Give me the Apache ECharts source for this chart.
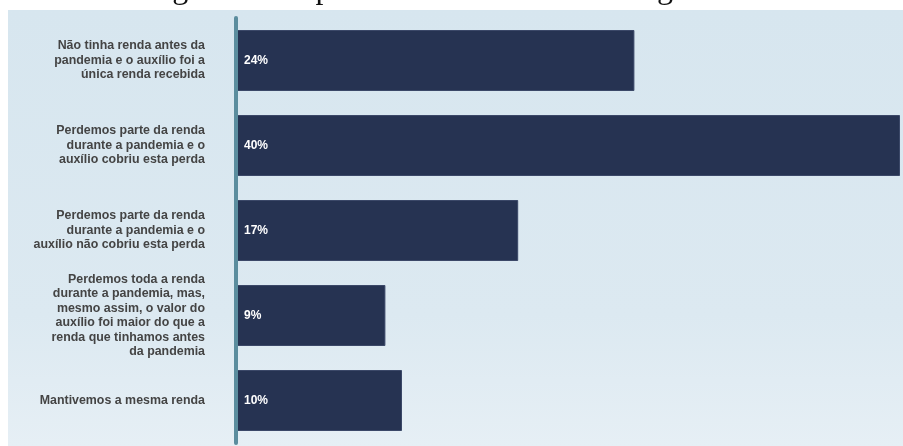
<!DOCTYPE html>
<html>
<head>
<meta charset="utf-8">
<style>
  html, body { margin: 0; padding: 0; background: #ffffff; }
  #chart { width: 903px; height: 446px; }
</style>
<script src="https://cdn.jsdelivr.net/npm/echarts@6/dist/echarts.min.js"></script>
</head>
<body>
<div id="chart"></div>
<script>
// Answer categories (top to bottom) and their shares in percent
const categories = [
  'Não tinha renda antes da\npandemia e o auxílio foi a\núnica renda recebida',
  'Perdemos parte da renda\ndurante a pandemia e o\nauxílio cobriu esta perda',
  'Perdemos parte da renda\ndurante a pandemia e o\nauxílio não cobriu esta perda',
  'Perdemos toda a renda\ndurante a pandemia, mas,\nmesmo assim, o valor do\nauxílio foi maior do que a\nrenda que tinhamos antes\nda pandemia',
  'Mantivemos a mesma renda'
];
const shares = [24, 40, 17, 9, 10];
const titleText = 'Figura 5 - Importância do Auxílio Emergencial.';

const narrow = "'Liberation Sans Narrow', 'Arial Narrow', 'Liberation Sans', sans-serif";

const chart = echarts.init(document.getElementById('chart'), null, { renderer: 'canvas' });

chart.setOption({
  backgroundColor: '#ffffff',
  animation: false,
  graphic: [
    {
      type: 'text',
      z: 0,
      left: 'center',
      top: -26,
      style: {
        text: titleText,
        font: "32px 'Liberation Serif', 'Times New Roman', serif",
        fill: '#111111'
      }
    },
    {
      // light blue backdrop of the figure
      type: 'rect',
      z: 1,
      shape: { x: 8, y: 10, width: 895, height: 436 },
      style: {
        fill: new echarts.graphic.LinearGradient(0, 0, 0, 1, [
          { offset: 0, color: '#d7e6ef' },
          { offset: 0.7, color: '#dce9f1' },
          { offset: 1, color: '#e6eff5' }
        ])
      }
    }
  ],
  grid: { left: 236, right: 3, top: 18, bottom: 3, containLabel: false },
  xAxis: {
    type: 'value',
    min: 0,
    max: 40,
    show: false
  },
  yAxis: {
    type: 'category',
    data: categories,
    inverse: true,
    offset: 3,
    z: 5,
    axisLine: { show: true, lineStyle: { color: '#5b8d9e', width: 4 } },
    axisTick: { show: false },
    axisLabel: {
      margin: 28,
      color: '#444444',
      fontFamily: narrow,
      fontWeight: 'bold',
      fontSize: 12.4,
      lineHeight: 14.5,
      align: 'right'
    }
  },
  series: [
    {
      type: 'bar',
      z: 3,
      data: shares,
      barWidth: 61,
      itemStyle: { color: '#263352', borderColor: '#3b4868', borderWidth: 1 },
      label: {
        show: true,
        position: 'insideLeft',
        distance: 8,
        formatter: '{c}%',
        color: '#ffffff',
        fontFamily: narrow,
        fontWeight: 'bold',
        fontSize: 12
      }
    }
  ]
});
</script>
</body>
</html>
